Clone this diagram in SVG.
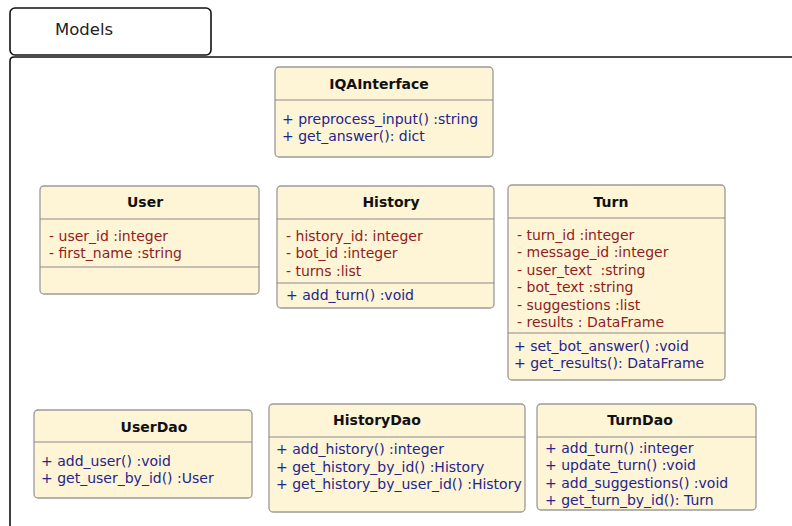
<svg xmlns="http://www.w3.org/2000/svg" width="792" height="526" viewBox="0 0 792 526">
  <style>
    text { font-family: "DejaVu Sans", "Liberation Sans", sans-serif; font-size: 14px; white-space: pre; }
    .box { fill: #fef4d6; stroke: #9a9a9a; stroke-width: 1.3; }
    .sep { stroke: #8a8a8a; stroke-width: 1.2; }
    .title { font-weight: bold; fill: #111; text-anchor: middle; }
    .attr { fill: #8f1d1d; }
    .op { fill: #24248a; }
    .frame { fill: #fff; stroke: #111; stroke-width: 1.6; }
  </style>

  <!-- package frame -->
  <g id="package-models">
    <path class="frame" d="M10,800 L10,61 Q10,57 14,57 L800,57"/>
    <rect class="frame" x="10" y="8" width="201" height="47" rx="5"/>
    <text x="55" y="35" style="font-size:16.5px" fill="#222">Models</text>
  </g>

  <g id="connectors"></g>

  <g id="IQAInterface">
    <rect class="box" x="275" y="67" width="218" height="90" rx="4"/>
    <line class="sep" x1="275" y1="100" x2="493" y2="100"/>
    <text class="title" x="379" y="89">IQAInterface</text>
    <text class="op" x="282" y="124">+ preprocess_input() :string</text>
    <text class="op" x="282" y="141">+ get_answer(): dict</text>
  </g>

  <g id="User">
    <rect class="box" x="40" y="186" width="219" height="108" rx="4"/>
    <line class="sep" x1="40" y1="219" x2="259" y2="219"/>
    <line class="sep" x1="40" y1="267" x2="259" y2="267"/>
    <text class="title" x="145" y="207">User</text>
    <text class="attr" x="49" y="241">- user_id :integer</text>
    <text class="attr" x="49" y="258">- first_name :string</text>
  </g>

  <g id="History">
    <rect class="box" x="277" y="186" width="217" height="122" rx="4"/>
    <line class="sep" x1="277" y1="219" x2="494" y2="219"/>
    <line class="sep" x1="277" y1="283" x2="494" y2="283"/>
    <text class="title" x="391" y="207">History</text>
    <text class="attr" x="286" y="241">- history_id: integer</text>
    <text class="attr" x="286" y="258">- bot_id :integer</text>
    <text class="attr" x="286" y="276">- turns :list</text>
    <text class="op" x="286" y="300">+ add_turn() :void</text>
  </g>

  <g id="Turn">
    <rect class="box" x="508" y="185" width="217" height="195" rx="4"/>
    <line class="sep" x1="508" y1="218" x2="725" y2="218"/>
    <line class="sep" x1="508" y1="333" x2="725" y2="333"/>
    <text class="title" x="611" y="207">Turn</text>
    <text class="attr" x="517" y="240">- turn_id :integer</text>
    <text class="attr" x="517" y="257">- message_id :integer</text>
    <text class="attr" x="517" y="275">- user_text  :string</text>
    <text class="attr" x="517" y="292">- bot_text :string</text>
    <text class="attr" x="517" y="310">- suggestions :list</text>
    <text class="attr" x="517" y="327">- results : DataFrame</text>
    <text class="op" x="514" y="351">+ set_bot_answer() :void</text>
    <text class="op" x="514" y="368">+ get_results(): DataFrame</text>
  </g>

  <g id="UserDao">
    <rect class="box" x="34" y="410" width="218" height="88" rx="4"/>
    <line class="sep" x1="34" y1="442" x2="252" y2="442"/>
    <text class="title" x="154" y="432">UserDao</text>
    <text class="op" x="41" y="466">+ add_user() :void</text>
    <text class="op" x="41" y="483">+ get_user_by_id() :User</text>
  </g>

  <g id="HistoryDao">
    <rect class="box" x="269" y="404" width="256" height="108" rx="4"/>
    <line class="sep" x1="269" y1="437" x2="525" y2="437"/>
    <text class="title" x="377" y="425">HistoryDao</text>
    <text class="op" x="276" y="454">+ add_history() :integer</text>
    <text class="op" x="276" y="472">+ get_history_by_id() :History</text>
    <text class="op" x="276" y="489">+ get_history_by_user_id() :History</text>
  </g>

  <g id="TurnDao">
    <rect class="box" x="537" y="404" width="219" height="106" rx="4"/>
    <line class="sep" x1="537" y1="437" x2="756" y2="437"/>
    <text class="title" x="640" y="425">TurnDao</text>
    <text class="op" x="545" y="453">+ add_turn() :integer</text>
    <text class="op" x="545" y="470">+ update_turn() :void</text>
    <text class="op" x="545" y="488">+ add_suggestions() :void</text>
    <text class="op" x="545" y="505">+ get_turn_by_id(): Turn</text>
  </g>
</svg>
